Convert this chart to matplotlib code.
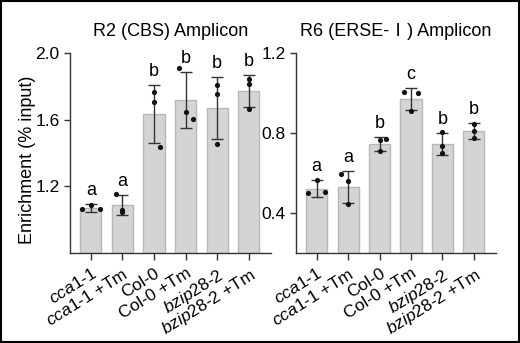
import numpy as np
import matplotlib
matplotlib.use("Agg")
import matplotlib.pyplot as plt
import matplotlib.transforms as mtransforms
from matplotlib.patches import Rectangle

plt.rcParams['font.family'] = ['Liberation Sans', 'Noto Sans CJK SC', 'DejaVu Sans']
plt.rcParams['mathtext.fontset'] = 'custom'
plt.rcParams['mathtext.rm'] = 'Liberation Sans'
plt.rcParams['mathtext.it'] = 'Liberation Sans:italic'

labels = [r"$\mathit{cca1}$-$\mathit{1}$", r"$\mathit{cca1}$-$\mathit{1}$ +Tm",
          "Col-0", "Col-0 +Tm",
          r"$\mathit{bzip28}$-$\mathit{2}$", r"$\mathit{bzip28}$-$\mathit{2}$ +Tm"]

# R2 (CBS)
r2_mean = [1.07, 1.087, 1.635, 1.719, 1.671, 1.773]
r2_sd = [0.022, 0.06, 0.173, 0.166, 0.188, 0.097]
r2_pts = [[1.062, 1.09, 1.063], [1.155, 1.06, 1.045], [1.768, 1.708, 1.438],
          [1.908, 1.644, 1.604], [1.808, 1.752, 1.452], [1.844, 1.812, 1.664]]
r2_letters = ['a', 'a', 'b', 'b', 'b', 'b']

# R6 (ERSE-I)
r6_mean = [0.522, 0.532, 0.745, 0.97, 0.746, 0.81]
r6_sd = [0.043, 0.08, 0.033, 0.056, 0.056, 0.038]
r6_pts = [[0.498, 0.565, 0.503], [0.593, 0.558, 0.445], [0.71, 0.765, 0.768],
          [1.007, 0.91, 1.0], [0.803, 0.737, 0.698], [0.845, 0.81, 0.777]]
r6_letters = ['a', 'a', 'b', 'c', 'b', 'b']

jit = [[-0.28, 0, 0.28], [-0.2, 0, 0], [0, 0, 0.18], [-0.22, 0, 0.22], [0, 0, 0], [0, 0, 0]]
jit6 = [[-0.28, 0, 0.28], [-0.22, 0, 0], [0, 0, 0.22], [-0.22, 0, 0.22], [0, 0, 0], [0, 0, 0]]

fig = plt.figure(figsize=(5.2, 3.43), dpi=100)
fig.patches.append(Rectangle((0.002, 0.003), 0.996, 0.994, transform=fig.transFigure,
                             fill=False, edgecolor='black', linewidth=1.5))

ax1 = fig.add_axes([0.1346, 0.2624, 0.3865, 0.583])
ax2 = fig.add_axes([0.569, 0.2624, 0.3846, 0.583])


def panel(ax, mean, sd, pts, letters, jitter, ylim, yticks, title, off):
    x = np.arange(len(mean))
    ax.bar(x, mean, width=0.67, color='#d4d4d4', edgecolor='#b8b8b8', linewidth=1, zorder=1)
    ax.errorbar(x, mean, yerr=sd, fmt='none', ecolor='#333333', elinewidth=1,
                capsize=4, capthick=1, zorder=3)
    for i, p in enumerate(pts):
        ax.scatter(np.array(jitter[i]) + i, p, s=14, color='#111111', zorder=4, linewidths=0)
    for i, l in enumerate(letters):
        ax.text(i, mean[i] + sd[i] + off, l, ha='center', va='bottom', fontsize=13)
    ax.set_xlim(-0.66, 5.7)
    ax.set_ylim(*ylim)
    ax.set_yticks(yticks)
    ax.set_xticks(x)
    ax.set_xticklabels(labels, rotation=32, ha='right', va='top', rotation_mode='anchor',
                       fontsize=12.5)
    shift = mtransforms.ScaledTranslation(0.11, -0.03, fig.dpi_scale_trans)
    for t in ax.get_xticklabels():
        t.set_transform(t.get_transform() + shift)
    ax.tick_params(axis='y', labelsize=12.5, length=4, width=1, color='#333333')
    ax.tick_params(axis='x', length=5, width=1, color='#333333', pad=4)
    for s in ['top', 'right']:
        ax.spines[s].set_visible(False)
    for s in ['left', 'bottom']:
        ax.spines[s].set_color('#333333')
        ax.spines[s].set_linewidth(1)
    ax.set_title(title, fontsize=13, pad=12)


panel(ax1, r2_mean, r2_sd, r2_pts, r2_letters, jit, (0.8, 2.0), [1.2, 1.6, 2.0],
      "R2 (CBS) Amplicon", 0.03)
ax1.set_yticklabels(["1.2", "1.6", "2.0"])
ax1.set_ylabel("Enrichment (% input)", fontsize=13)
ax1.yaxis.set_label_coords(-0.17, 0.465)
panel(ax2, r6_mean, r6_sd, r6_pts, r6_letters, jit6, (0.2, 1.2), [0.4, 0.8, 1.2],
      "R6 (ERSE-\u2160) Amplicon", 0.025)

fig.savefig("out.png", dpi=100)
